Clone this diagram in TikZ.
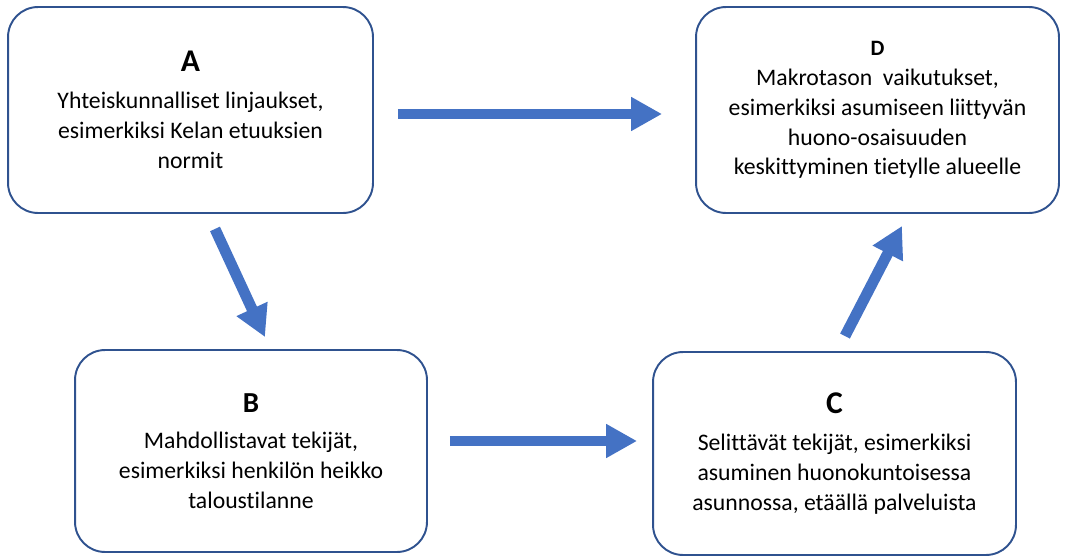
\documentclass[tikz,border=0pt]{standalone}
\usepackage{fontspec}
\setmainfont[Ligatures=NoCommon]{Carlito}
\usetikzlibrary{arrows.meta}
\definecolor{randblau}{RGB}{47,82,143}
\definecolor{pfeilblau}{RGB}{68,114,196}
\begin{document}
\begin{tikzpicture}[x=0.02cm,y=-0.02cm,
		kasten/.style={draw=randblau,line width=1.1pt,rounded corners=0.6cm,inner sep=0pt,align=center,font=\fontsize{13.5}{17}\selectfont},
		pfeil/.style={draw=pfeilblau,line width=6.2pt,-{Triangle[length=0.62cm,width=0.64cm]}}]
				\useasboundingbox (0,0) rectangle (1065,558);
				% Kaesten
				\node[kasten,minimum width=7.3cm,minimum height=4.12cm] (A) at (190.5,110) {{\fontsize{18}{17}\selectfont\bfseries A}\\[4pt]Yhteiskunnalliset linjaukset,\\esimerkiksi Kelan etuuksien\\normit};
				\node[kasten,minimum width=7.26cm,minimum height=4.12cm] (D) at (877.5,110) {{\fontsize{12.5}{17}\selectfont\bfseries D}\\Makrotason\ \ vaikutukset,\\esimerkiksi asumiseen liittyvän\\huono-osaisuuden\\keskittyminen tietylle alueelle};
				\node[kasten,minimum width=7.04cm,minimum height=4.04cm] (B) at (251,451) {{\fontsize{16.5}{17}\selectfont\bfseries B}\\[4pt]Mahdollistavat tekijät,\\esimerkiksi henkilön heikko\\taloustilanne};
				\node[kasten,minimum width=7.26cm,minimum height=4.06cm] (C) at (834.5,453.5) {{\fontsize{18}{17}\selectfont\bfseries C}\\[4pt]Selittävät tekijät, esimerkiksi\\asuminen huonokuntoisessa\\asunnossa, etäällä palveluista};
				% Pfeile
				\draw[pfeil] ([shift={(24,4)}]A.east) -- ([shift={(-33,4)}]D.west);
				\draw[pfeil] ([shift={(24.5,15)}]A.south) -- ([shift={(14,-12)}]B.north);
				\draw[pfeil] ([shift={(22,-10)}]B.east) -- ([shift={(-15,-12.5)}]C.west);
				\draw[pfeil] ([shift={(10.5,-15)}]C.north) -- ([shift={(24.5,12)}]D.south);
\end{tikzpicture}
\end{document}
